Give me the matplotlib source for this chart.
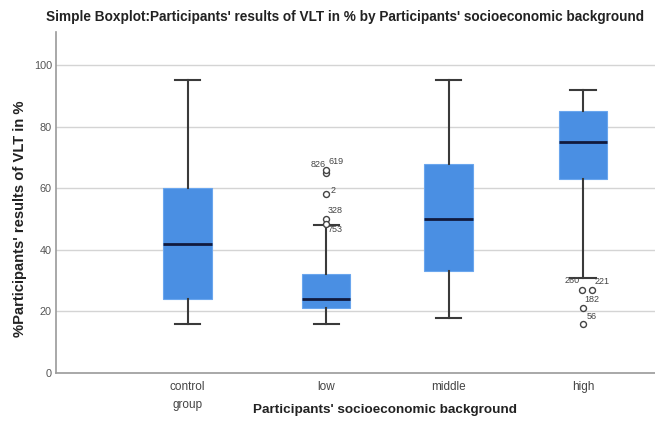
import matplotlib
matplotlib.use("Agg")
import matplotlib.pyplot as plt

plt.rcParams['font.family'] = ['Liberation Sans', 'DejaVu Sans']

# ---- data ----
categories = ["control\ngroup", "low", "middle", "high"]
whislo = [16, 16, 18, 31]
q1 = [24, 21, 33, 63]
medians = [42, 24, 50, 75]
q3 = [60, 32, 68, 85]
whishi = [95, 48, 95, 92]

# outliers: (category index, value, case label)
outlier_cat = [1, 1, 1, 1, 1, 3, 3, 3, 3]
outlier_val = [65, 66, 58, 50, 48.5, 27, 27, 21, 16]
outlier_lab = ["826", "619", "2", "328", "753", "260", "221", "182", "56"]
yticks = [0, 20, 40, 60, 80, 100]

# ---- layout / style (not data) ----
positions = [1, 2.05, 2.98, 4]
jitter = [0, 0, 0, 0, 0, -0.005, 0.07, 0, 0]
label_offsets = [(0, 6, 'right'), (2, 6, 'left'), (3, 3, 'left'), (1, 6, 'left'),
                 (1, -4, 'left'), (-2, 7, 'right'), (2, 6, 'left'), (1, 6, 'left'), (3, 5, 'left')]

fig = plt.figure(figsize=(6.55, 4.24), dpi=100)
ax = fig.add_axes([56/655, 1-373/424, 664/655, (373-32)/424])

stats = []
for i in range(len(categories)):
    stats.append(dict(med=medians[i], q1=q1[i], q3=q3[i],
                      whislo=whislo[i], whishi=whishi[i], fliers=[]))

for y in yticks[1:]:
    ax.axhline(y, color='#d4d4d4', lw=1, zorder=0)

ax.bxp(stats, positions=positions, widths=0.37, patch_artist=True,
       showfliers=False, capwidths=0.19,
       boxprops=dict(facecolor='#4a8fe3', edgecolor='#6aa6ee', lw=0.8),
       medianprops=dict(color='#111a3d', lw=2),
       whiskerprops=dict(color='#3a3a3a', lw=1.5),
       capprops=dict(color='#3a3a3a', lw=1.5), zorder=3)

for c, v, lab, j, (dx, dy, ha) in zip(outlier_cat, outlier_val, outlier_lab, jitter, label_offsets):
    x = positions[c] + j
    ax.plot(x, v, 'o', ms=4.3, mfc='white', mec='#444444', mew=1.0, zorder=4)
    ax.annotate(lab, (x, v), xytext=(dx, dy), textcoords='offset points',
                ha=ha, va='center', fontsize=6.5, color='#444444', zorder=5)

ax.set_xlim(0, 5.04)
ax.set_ylim(0, 110.7)
ax.set_yticks(yticks)
ax.set_yticklabels([str(t) for t in yticks], fontsize=7.8, color='#555555')
ax.set_xticks(positions)
ax.set_xticklabels(categories, fontsize=8.5, color='#444444', linespacing=1.6, va='top')
ax.tick_params(axis='x', length=0, pad=6)
ax.tick_params(axis='y', length=0, pad=3)
for s in ['top', 'right']:
    ax.spines[s].set_visible(False)
for s in ['left', 'bottom']:
    ax.spines[s].set_color('#9a9a9a')
    ax.spines[s].set_linewidth(1.2)

ax.set_ylabel("%Participants' results of VLT in %", fontsize=10.6, fontweight='bold',
              color='#222222', va='center')
ax.yaxis.set_label_coords(-(56 - 20) / 664, (373 - 219) / 341)
ax.set_xlabel("Participants' socioeconomic background", fontsize=9.7, fontweight='bold',
              color='#222222', va='center')
ax.xaxis.set_label_coords((385 - 56) / 664, -(410 - 373) / 341)
fig.text(345/655, 1-17/424,
         "Simple Boxplot:Participants' results of VLT in % by Participants' socioeconomic background",
         ha='center', va='center', fontsize=9.8, fontweight='bold', color='#222222')

fig.savefig("out.png", dpi=100)
